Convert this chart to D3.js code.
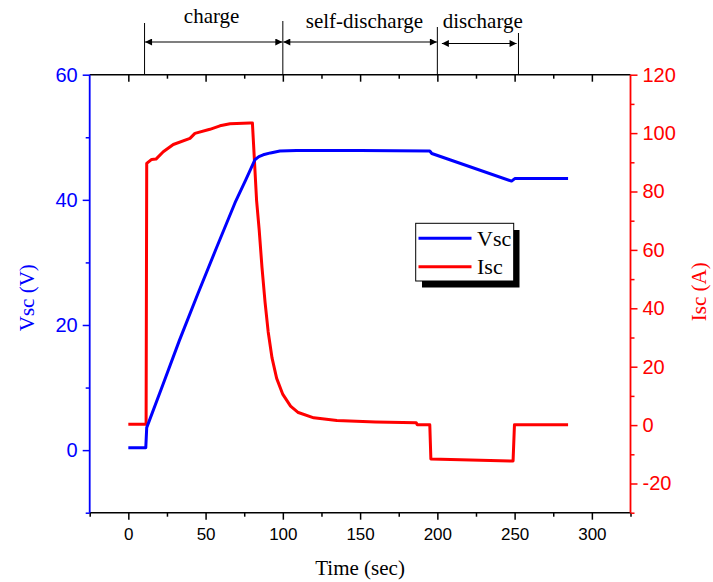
<!DOCTYPE html>
<html>
<head>
<meta charset="utf-8">
<script src="https://cdn.jsdelivr.net/npm/d3@7"></script>
<style>
  html, body { margin: 0; padding: 0; background: #fff; }
  svg { display: block; }
</style>
</head>
<body>
<svg id="chart" width="713" height="582"></svg>
<script>
// ---------------- DATA ----------------
const vscTime  = [0, 11.3, 11.9, 22.6, 33, 45, 57, 69, 76, 81.9, 84.5, 87.3, 92, 98.1, 108.9, 150, 195.1, 196.4, 248, 250.1, 284.6];
const vscValue = [0.4, 0.4, 3.6, 10.6, 17.5, 25.0, 32.3, 39.5, 43.2, 46.4, 46.9, 47.2, 47.5, 47.8, 47.9, 47.9, 47.8, 47.4, 43.0, 43.4, 43.4];

const iscTime  = [0, 11.5, 11.9, 15.1, 17.9, 22.6, 29.1, 39.9, 43.1, 52.8, 59.3, 65.8, 78.7, 80.3, 83, 84.7, 86.5, 88.5, 90.5, 93, 96, 100, 105, 110, 120, 135, 160, 186.3, 187, 195.1, 195.8, 249, 249.9, 284.6];
const iscValue = [0.3, 0.3, 89.6, 91.0, 91.1, 93.6, 96.1, 98.2, 99.9, 101.3, 102.5, 103.2, 103.5, 103.5, 77, 66.8, 54, 42, 32, 23, 16, 10.5, 6.5, 4.3, 2.5, 1.6, 1.1, 0.8, 0.1, 0.1, -11.6, -12.3, 0.1, 0.1];

const xMajorTicks = [0, 50, 100, 150, 200, 250, 300];
const xMinorTicks = [-25, 25, 75, 125, 175, 225, 275, 325];
const yLeftMajor  = [0, 20, 40, 60];
const yLeftMinor  = [-10, 10, 30, 50];
const yRightMajor = [-20, 0, 20, 40, 60, 80, 100, 120];
const yRightMinor = [-30, -10, 10, 30, 50, 70, 90, 110];

const phaseBounds = [10.5, 100, 200, 252.5];           // vertical marker lines (sec)
const phaseLineTop = [23, 21, 27, 33];
const phases = [
  { label: "charge",         from: 10.5,  to: 100,   center: 53.9,  y: 23, ay: 42 },
  { label: "self-discharge", from: 100,   to: 200,   center: 152.8, y: 28, ay: 42 },
  { label: "discharge",      from: 202.6, to: 251.6, center: 229.4, y: 28, ay: 43.5 }
];
const seriesNames = ["Vsc", "Isc"];

// ---------------- LAYOUT ----------------
const L = 89.7, R = 630.5, T = 74.7, B = 512.7;
const BLUE = "#0000ff", RED = "#ff0000";
const SERIF = "'Liberation Serif','Times New Roman',serif";
const SANS = "'Liberation Sans',Arial,sans-serif";
const fmt = d => String(d);   // plain hyphen-minus like the original

const svg = d3.select("#chart");
const x  = d3.scaleLinear().domain([-25, 325]).range([L, R]);
const yL = d3.scaleLinear().domain([-10, 60]).range([B, T]);
const yR = d3.scaleLinear().domain([-30, 120]).range([B, T]);

// defs: arrowheads
const defs = svg.append("defs");
defs.append("marker").attr("id", "arrEnd").attr("viewBox", "0 0 10 10")
  .attr("refX", 10).attr("refY", 5).attr("markerWidth", 10).attr("markerHeight", 7)
  .attr("markerUnits", "userSpaceOnUse").attr("orient", "auto")
  .append("path").attr("d", "M0,0 L10,5 L0,10 z").attr("fill", "#000");
defs.append("marker").attr("id", "arrStart").attr("viewBox", "0 0 10 10")
  .attr("refX", 0).attr("refY", 5).attr("markerWidth", 10).attr("markerHeight", 7)
  .attr("markerUnits", "userSpaceOnUse").attr("orient", "auto")
  .append("path").attr("d", "M10,0 L0,5 L10,10 z").attr("fill", "#000");

// ---------------- AXES ----------------
function styleAxis(g, color) {
  g.select(".domain").remove();
  g.selectAll(".tick line").attr("stroke", color).attr("stroke-width", 1.5);
  g.selectAll(".tick text").attr("fill", color);
}

// bottom axis
svg.append("g").attr("transform", `translate(0,${B})`)
  .call(d3.axisBottom(x).tickValues(xMajorTicks).tickSize(7).tickPadding(8).tickFormat(fmt))
  .call(g => styleAxis(g, "#000"))
  .selectAll(".tick text").attr("font-family", SANS).attr("font-size", 17);
svg.append("g").attr("transform", `translate(0,${B})`)
  .call(d3.axisBottom(x).tickValues(xMinorTicks).tickSize(4).tickFormat(""))
  .call(g => styleAxis(g, "#000"));

// top axis (inward ticks)
svg.append("g").attr("transform", `translate(0,${T})`)
  .call(d3.axisBottom(x).tickValues(xMajorTicks).tickSize(7).tickFormat(""))
  .call(g => styleAxis(g, "#000"));
svg.append("g").attr("transform", `translate(0,${T})`)
  .call(d3.axisBottom(x).tickValues(xMinorTicks.slice(1, -1)).tickSize(4).tickFormat(""))
  .call(g => styleAxis(g, "#000"));

// left axis
svg.append("g").attr("transform", `translate(${L},0)`)
  .call(d3.axisLeft(yL).tickValues(yLeftMajor).tickSize(7).tickPadding(5).tickFormat(fmt))
  .call(g => styleAxis(g, BLUE))
  .selectAll(".tick text").attr("font-family", SANS).attr("font-size", 20);
svg.append("g").attr("transform", `translate(${L},0)`)
  .call(d3.axisLeft(yL).tickValues(yLeftMinor).tickSize(4).tickFormat(""))
  .call(g => styleAxis(g, BLUE));

// right axis
svg.append("g").attr("transform", `translate(${R},0)`)
  .call(d3.axisRight(yR).tickValues(yRightMajor).tickSize(7).tickPadding(5).tickFormat(fmt))
  .call(g => styleAxis(g, RED))
  .selectAll(".tick text").attr("font-family", SANS).attr("font-size", 20);
svg.append("g").attr("transform", `translate(${R},0)`)
  .call(d3.axisRight(yR).tickValues(yRightMinor).tickSize(4).tickFormat(""))
  .call(g => styleAxis(g, RED));

// axis frame lines
svg.append("line").attr("x1", L).attr("x2", R).attr("y1", B).attr("y2", B).attr("stroke", "#000").attr("stroke-width", 1.6);
svg.append("line").attr("x1", L).attr("x2", R).attr("y1", T).attr("y2", T).attr("stroke", "#000").attr("stroke-width", 1.6);
svg.append("line").attr("x1", L).attr("x2", L).attr("y1", T).attr("y2", B).attr("stroke", BLUE).attr("stroke-width", 1.8);
svg.append("line").attr("x1", R).attr("x2", R).attr("y1", T).attr("y2", B).attr("stroke", RED).attr("stroke-width", 1.8);

// axis titles
svg.append("text").attr("x", (L + R) / 2).attr("y", 575).attr("text-anchor", "middle")
  .attr("font-family", SERIF).attr("font-size", 21).attr("fill", "#000").text("Time (sec)");
svg.append("text").attr("transform", `translate(34,${(T + B) / 2 + 4}) rotate(-90)`).attr("text-anchor", "middle")
  .attr("font-family", SERIF).attr("font-size", 21).attr("fill", BLUE).text("Vsc (V)");
svg.append("text").attr("transform", `translate(706,${(T + B) / 2 - 2}) rotate(-90)`).attr("text-anchor", "middle")
  .attr("font-family", SERIF).attr("font-size", 21).attr("fill", RED).text("Isc (A)");

// ---------------- SERIES ----------------
const vscData = vscTime.map((t, i) => [t, vscValue[i]]);
const iscData = iscTime.map((t, i) => [t, iscValue[i]]);

svg.append("path").datum(iscData)
  .attr("d", d3.line().x(d => x(d[0])).y(d => yR(d[1])))
  .attr("fill", "none").attr("stroke", RED).attr("stroke-width", 3).attr("stroke-linejoin", "round");
svg.append("path").datum(vscData)
  .attr("d", d3.line().x(d => x(d[0])).y(d => yL(d[1])))
  .attr("fill", "none").attr("stroke", BLUE).attr("stroke-width", 3).attr("stroke-linejoin", "round");

// ---------------- PHASE ANNOTATIONS ----------------
svg.selectAll(".phaseLine").data(phaseBounds).enter().append("line")
  .attr("x1", d => x(d)).attr("x2", d => x(d))
  .attr("y1", (d, i) => phaseLineTop[i]).attr("y2", T)
  .attr("stroke", "#000").attr("stroke-width", 1);

phases.forEach(p => {
  svg.append("line")
    .attr("x1", x(p.from) + 0.5).attr("x2", x(p.to) - 0.5)
    .attr("y1", p.ay).attr("y2", p.ay)
    .attr("stroke", "#000").attr("stroke-width", 1.2)
    .attr("marker-start", "url(#arrStart)").attr("marker-end", "url(#arrEnd)");
  svg.append("text").attr("x", x(p.center)).attr("y", p.y).attr("text-anchor", "middle")
    .attr("font-family", SERIF).attr("font-size", 21).attr("fill", "#000").text(p.label);
});

// ---------------- LEGEND ----------------
const lg = svg.append("g");
lg.append("rect").attr("x", 422).attr("y", 230).attr("width", 97.5).attr("height", 57.5).attr("fill", "#000");
lg.append("rect").attr("x", 415.7).attr("y", 223.3).attr("width", 98).attr("height", 57.7)
  .attr("fill", "#fff").attr("stroke", "#000").attr("stroke-width", 1);
[BLUE, RED].forEach((c, i) => {
  const yy = 238.3 + i * 28.4;
  lg.append("line").attr("x1", 418.5).attr("x2", 471.5).attr("y1", yy).attr("y2", yy)
    .attr("stroke", c).attr("stroke-width", 3);
  lg.append("text").attr("x", 477).attr("y", yy + 7.5)
    .attr("font-family", SERIF).attr("font-size", 22).attr("fill", "#000").text(seriesNames[i]);
});
</script>
</body>
</html>
